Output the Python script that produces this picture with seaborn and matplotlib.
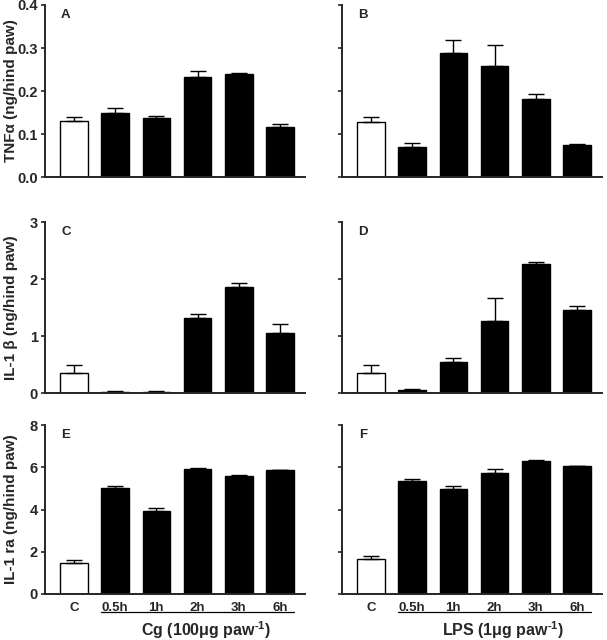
import numpy as np
import pandas as pd
import matplotlib
matplotlib.use("Agg")
import matplotlib.pyplot as plt
import seaborn as sns

# data (mean and upper SEM)
groups = ["C", "0.5h", "1h", "2h", "3h", "6h"]
bar_colors = ["white", "black", "black", "black", "black", "black"]

tnf_cg = [0.130, 0.150, 0.137, 0.232, 0.240, 0.117]
tnf_cg_err = [0.010, 0.011, 0.006, 0.015, 0.003, 0.006]
tnf_lps = [0.129, 0.070, 0.289, 0.257, 0.181, 0.074]
tnf_lps_err = [0.010, 0.010, 0.029, 0.050, 0.011, 0.002]

il1b_cg = [0.35, 0.023, 0.012, 1.316, 1.865, 1.058]
il1b_cg_err = [0.135, 0.012, 0.018, 0.074, 0.070, 0.152]
il1b_lps = [0.35, 0.053, 0.537, 1.267, 2.265, 1.454]
il1b_lps_err = [0.140, 0.011, 0.083, 0.397, 0.041, 0.070]

il1ra_cg = [1.48, 5.02, 3.94, 5.93, 5.60, 5.85]
il1ra_cg_err = [0.13, 0.07, 0.14, 0.05, 0.05, 0.03]
il1ra_lps = [1.68, 5.35, 4.96, 5.74, 6.31, 6.07]
il1ra_lps_err = [0.14, 0.11, 0.17, 0.18, 0.03, 0.01]

ylabels = ["TNF\u03b1 (ng/hind paw)", "IL-1 \u03b2 (ng/hind paw)", "IL-1 ra (ng/hind paw)"]
yticks = [[0.0, 0.1, 0.2, 0.3, 0.4], [0, 1, 2, 3], [0, 2, 4, 6, 8]]
ytick_fmt = ["{:.1f}", "{:d}", "{:d}"]
panel_letters = [["A", "B"], ["C", "D"], ["E", "F"]]
group_titles = ["Cg (100\u03bcg paw$^{\u2010 1}$)", "LPS (1\u03bcg paw$^{\u2010 1}$)"]

sns.set_style("ticks")
plt.rcParams["font.family"] = ["Liberation Sans", "DejaVu Sans"]
plt.rcParams["font.weight"] = "bold"
plt.rcParams["mathtext.fontset"] = "custom"
plt.rcParams["mathtext.rm"] = "Liberation Sans:bold"
plt.rcParams["mathtext.default"] = "rm"

fig = plt.figure(figsize=(6.07, 6.4), dpi=100)
lefts = [0.0741, 0.5634]
rows = [(0.7234, 0.2688), (0.3859, 0.267), (0.0719, 0.264)]

panels = [[(tnf_cg, tnf_cg_err), (tnf_lps, tnf_lps_err)],
          [(il1b_cg, il1b_cg_err), (il1b_lps, il1b_lps_err)],
          [(il1ra_cg, il1ra_cg_err), (il1ra_lps, il1ra_lps_err)]]

for r, (bottom, height) in enumerate(rows):
    for c, left in enumerate(lefts):
        ax = fig.add_axes([left, bottom, 0.428, height])
        vals, errs = panels[r][c]
        df = pd.DataFrame({"group": groups, "value": vals, "err": errs})
        sns.barplot(data=df, x="group", y="value", hue="group", palette=bar_colors,
                    legend=False, edgecolor="black", linewidth=1.0, width=0.67,
                    ax=ax)
        ax.errorbar(np.arange(len(groups)), df["value"],
                    yerr=[np.zeros(len(groups)), df["err"]], fmt="none",
                    ecolor="black", elinewidth=1.0, capsize=6, capthick=1.0)
        ax.set_xlim(-0.7, 5.6)
        ax.set_ylim(yticks[r][0], yticks[r][-1])
        ax.set_yticks(yticks[r])
        ax.tick_params(axis="y", direction="out", length=3, width=1.2, pad=2)
        ax.tick_params(axis="x", length=0, pad=6)
        for s in ["top", "right"]:
            ax.spines[s].set_visible(False)
        for s in ["left", "bottom"]:
            ax.spines[s].set_linewidth(1.4)
        ax.set_xlabel("")
        ax.set_ylabel("")
        if c == 0:
            ax.set_yticklabels([ytick_fmt[r].format(t) for t in yticks[r]],
                               fontsize=10.5, fontweight="bold")
            ax.set_ylabel(ylabels[r], fontsize=11, fontweight="bold")
            ax.yaxis.label.set_verticalalignment("center")
            ax.yaxis.set_label_coords(-0.13, 0.5)
        else:
            ax.set_yticklabels([])
        if r == 2:
            ax.set_xticks(range(len(groups)))
            ax.set_xticklabels(groups, fontsize=9.5, fontweight="bold")
            trans = ax.get_xaxis_transform()
            ax.plot([1 - 0.335, 5 + 0.335], [-0.107, -0.107], color="black",
                    linewidth=0.9, transform=trans, clip_on=False)
            ax.text(3.2, -0.215, group_titles[c], transform=trans, ha="center",
                    va="center", fontsize=11.5, fontweight="bold")
        else:
            ax.set_xticklabels([])
        ax.text(0.08, 0.94, panel_letters[r][c], transform=ax.transAxes,
                fontsize=9.5, fontweight="bold", ha="center", va="center")

fig.savefig("out.png", dpi=100)
